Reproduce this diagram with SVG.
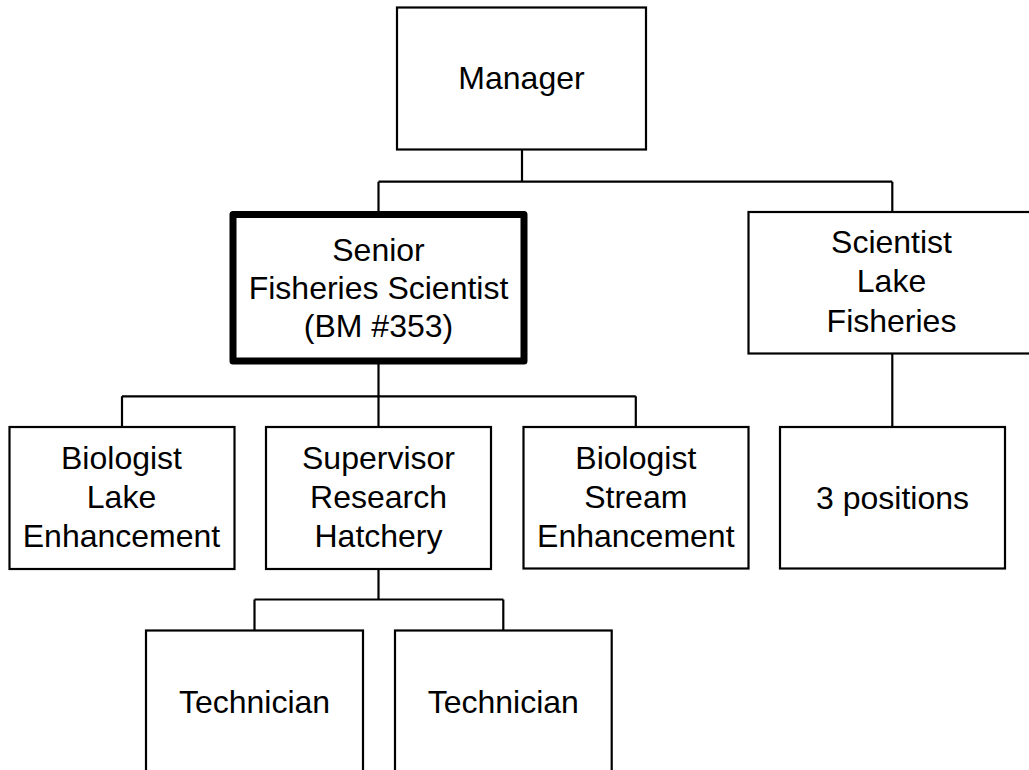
<svg xmlns="http://www.w3.org/2000/svg" width="1029" height="770" viewBox="0 0 1029 770">
<style>
.box{fill:#fff;stroke:#000;stroke-width:2.2}
.bold{fill:#fff;stroke:#000;stroke-width:7;stroke-linejoin:round}
.ln{fill:none;stroke:#000;stroke-width:2.2}
text{font-family:"Liberation Sans",Arial,Helvetica,sans-serif;font-size:32px;fill:#000;text-anchor:middle}
</style>
<rect width="1029" height="770" fill="#fff"/>
<g id="connectors">
<path class="ln" d="M522 149 V181.7 M378.5 181.7 H892.3 M378.5 181.7 V212 M892.3 181.7 V212"/>
<path class="ln" d="M378.5 362 V427 M122 396.3 H635.8 M122 396.3 V427 M635.8 396.3 V427"/>
<path class="ln" d="M892.3 353.5 V427"/>
<path class="ln" d="M378.5 569 V599.5 M254.5 599.5 H503.3 M254.5 599.5 V630.5 M503.3 599.5 V630.5"/>
</g>
<g id="manager">
<rect class="box" x="397" y="7.5" width="249" height="142"/>
<text x="521.5" y="89.3">Manager</text>
</g>
<g id="senior">
<rect class="bold" x="233" y="214.5" width="291" height="146.5"/>
<text x="378.5" y="260.5">Senior</text>
<text x="378.5" y="298.9">Fisheries Scientist</text>
<text x="378.5" y="337.3">(BM #353)</text>
</g>
<g id="scientist">
<rect class="box" x="748.5" y="212" width="288" height="141.5"/>
<text x="891.5" y="253.3">Scientist</text>
<text x="891.5" y="292.3">Lake</text>
<text x="891.5" y="331.5">Fisheries</text>
</g>
<g id="biologist-lake">
<rect class="box" x="9.5" y="427" width="225" height="142"/>
<text x="121.5" y="469.3">Biologist</text>
<text x="121.5" y="507.9">Lake</text>
<text x="121.5" y="546.7">Enhancement</text>
</g>
<g id="supervisor">
<rect class="box" x="266" y="427" width="225" height="142"/>
<text x="378.5" y="469.3">Supervisor</text>
<text x="378.5" y="507.9">Research</text>
<text x="378.5" y="546.7">Hatchery</text>
</g>
<g id="biologist-stream">
<rect class="box" x="523.5" y="427" width="225" height="141.5"/>
<text x="635.8" y="469.3">Biologist</text>
<text x="635.8" y="507.9">Stream</text>
<text x="635.8" y="546.7">Enhancement</text>
</g>
<g id="three-positions">
<rect class="box" x="780" y="427" width="225" height="141.5"/>
<text x="892.5" y="508.5">3 positions</text>
</g>
<g id="technician-1">
<rect class="box" x="146" y="630.5" width="217" height="200"/>
<text x="254.5" y="712.7">Technician</text>
</g>
<g id="technician-2">
<rect class="box" x="395" y="630.5" width="216.7" height="200"/>
<text x="503.3" y="712.7">Technician</text>
</g>
</svg>
